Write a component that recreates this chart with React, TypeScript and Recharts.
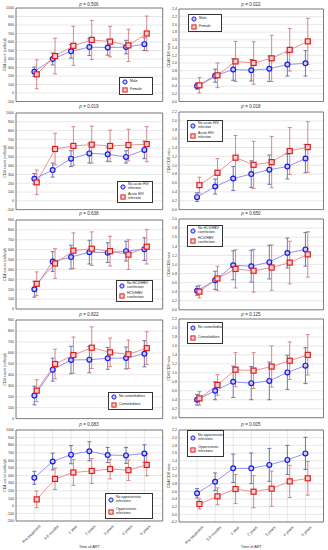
import React from 'react';
import { ComposedChart, Scatter, XAxis, YAxis, CartesianGrid, ErrorBar, ReferenceArea, Legend, Label } from 'recharts';

// ---------- categories ----------
const timeLabels = ['Pre-treatment', '3-6 months', '1 year', '2 years', '3 years', '4 years', '5 years'];

// ---------- tick labels ----------
const countTicksA = [-100, 0, 100, 200, 300, 400, 500, 600, 700, 800, 900, 1000];
const countTicksB = [0, 100, 200, 300, 400, 500, 600, 700, 800, 900];
const countTicksC = [-200, -100, 0, 100, 200, 300, 400, 500, 600, 700, 800, 900, 1000];
const ratioTicks24 = [0, 0.2, 0.4, 0.6, 0.8, 1.0, 1.2, 1.4, 1.6, 1.8, 2.0, 2.2, 2.4];
const ratioTicks22 = [0, 0.2, 0.4, 0.6, 0.8, 1.0, 1.2, 1.4, 1.6, 1.8, 2.0, 2.2];
const ratioTicks20 = [0, 0.2, 0.4, 0.6, 0.8, 1.0, 1.2, 1.4, 1.6, 1.8, 2.0];
const ratioTicksNeg = [-0.2, 0, 0.2, 0.4, 0.6, 0.8, 1.0, 1.2, 1.4, 1.6, 1.8, 2.0, 2.2];

// ---------- series: sex ----------
const maleCount = [250, 400, 490, 540, 535, 540, 575];
const maleCountErr = [55, 70, 80, 100, 90, 80, 75];
const femaleCount = [220, 435, 555, 625, 605, 560, 700];
const femaleCountErr = [170, 210, 230, 230, 180, 190, 205];
const maleRatio = [0.40, 0.67, 0.83, 0.81, 0.85, 0.96, 0.99];
const maleRatioErr = [0.08, 0.17, 0.28, 0.28, 0.33, 0.30, 0.33];
const femaleRatio = [0.42, 0.68, 1.04, 1.00, 1.12, 1.34, 1.56];
const femaleRatioErr = [0.20, 0.32, 0.52, 0.55, 0.60, 0.55, 0.60];

// ---------- series: acute HIV infection ----------
const noAcuteCount = [250, 350, 480, 540, 530, 500, 580];
const noAcuteCountErr = [60, 80, 90, 110, 80, 70, 100];
const acuteCount = [210, 590, 625, 640, 625, 635, 645];
const acuteCountErr = [140, 180, 220, 210, 180, 180, 200];
const noAcuteRatio = [0.28, 0.52, 0.70, 0.80, 0.90, 0.97, 1.15];
const noAcuteRatioErr = [0.10, 0.17, 0.27, 0.30, 0.33, 0.28, 0.32];
const acuteRatio = [0.55, 0.83, 1.17, 1.01, 1.07, 1.32, 1.41];
const acuteRatioErr = [0.18, 0.32, 0.50, 0.53, 0.58, 0.53, 0.57];

// ---------- series: HCV/HBV coinfection ----------
const noCoinfCount = [200, 480, 525, 575, 570, 585, 605];
const noCoinfCountErr = [80, 100, 120, 120, 100, 100, 115];
const coinfCount = [255, 460, 590, 610, 585, 550, 630];
const coinfCountErr = [120, 150, 180, 170, 150, 150, 175];
const noCoinfRatio = [0.42, 0.65, 0.98, 0.96, 1.05, 1.25, 1.33];
const noCoinfRatioErr = [0.10, 0.20, 0.32, 0.35, 0.37, 0.33, 0.37];
const coinfRatio = [0.40, 0.69, 0.90, 0.86, 0.93, 1.04, 1.22];
const coinfRatioErr = [0.14, 0.27, 0.42, 0.47, 0.50, 0.47, 0.50];

// ---------- series: comorbidities ----------
const noComorbCount = [210, 447, 535, 538, 550, 553, 592];
const noComorbCountErr = [85, 105, 125, 120, 100, 100, 120];
const comorbCount = [255, 498, 580, 647, 605, 587, 643];
const comorbCountErr = [100, 135, 165, 190, 130, 130, 150];
const noComorbRatio = [0.40, 0.60, 0.80, 0.77, 0.82, 1.01, 1.16];
const noComorbRatioErr = [0.12, 0.20, 0.35, 0.37, 0.42, 0.38, 0.40];
const comorbRatio = [0.43, 0.73, 1.07, 1.05, 1.14, 1.27, 1.40];
const comorbRatioErr = [0.15, 0.23, 0.38, 0.40, 0.46, 0.42, 0.45];

// ---------- series: opportunistic infections ----------
const noOICount = [370, 585, 675, 720, 670, 665, 690];
const noOICountErr = [85, 110, 120, 125, 100, 105, 115];
const oiCount = [85, 355, 440, 460, 485, 470, 540];
const oiCountErr = [110, 140, 170, 165, 130, 135, 145];
const noOIRatio = [0.55, 0.85, 1.20, 1.20, 1.29, 1.42, 1.59];
const noOIRatioErr = [0.12, 0.23, 0.37, 0.40, 0.43, 0.38, 0.42];
const oiRatio = [0.27, 0.47, 0.66, 0.59, 0.67, 0.86, 0.94];
const oiRatioErr = [0.13, 0.22, 0.38, 0.42, 0.46, 0.42, 0.44];

// ---------- p values / names ----------
const pValues = ['0.506', '0.022', '0.019', '0.018', '0.638', '0.650', '0.822', '0.125', '0.083', '0.005'];
const sexNames = [['Male'], ['Female']];
const acuteNames = [['No acute HIV', 'infection'], ['Acute HIV', 'infection']];
const coinfNames = [['No HCV/HBV', 'coinfection'], ['HCV/HBV', 'coinfection']];
const comorbNames = [['No comorbidities'], ['Comorbidities']];
const oiNames = [['No opportunistic', 'infections'], ['Opportunistic', 'infections']];

const countLabel = 'CD4 count (cells/\u03bcl)';
const ratioLabel = 'CD4/CD8 ratio';

const FONT = '"Liberation Sans", Arial, sans-serif';
const BLUE = '#1a1ae6';
const RED = '#e31a1a';
const DODGE = 0.13;

const BlueDot = (p: any) => (
  <circle cx={p.cx} cy={p.cy} r={2.4} fill="#c9cdff" stroke={BLUE} strokeWidth={1.2} />
);
const RedSq = (p: any) => (
  <rect x={p.cx - 2.5} y={p.cy - 2.5} width={5} height={5} fill="#ffd2d2" stroke={RED} strokeWidth={1.2} />
);

const AngledTick = (props: any) => {
  const { x, y, payload } = props;
  const label = timeLabels[Math.round(payload.value) - 1];
  return (
    <g transform={`translate(${x + 6.5},${y + 5.5}) rotate(-45)`}>
      <text x={0} y={0} textAnchor="end" fontSize={3.9} fill="#333" fontFamily={FONT}>{label}</text>
    </g>
  );
};

const LegendBox = ({ names }: { names: string[][] }) => (
  <div
    style={{
      boxSizing: 'border-box', width: '100%', height: '100%', border: '1px solid #333', background: '#fff',
      display: 'flex', flexDirection: 'column', justifyContent: 'space-around', padding: '0.5px 1.5px',
      fontSize: 3.5, lineHeight: '3.9px', color: '#222', fontFamily: FONT, whiteSpace: 'nowrap', overflow: 'hidden',
    }}
  >
    {names.map((lines, k) => (
      <div key={k} style={{ display: 'flex', alignItems: 'center' }}>
        <svg width={6} height={6} style={{ flex: 'none' }}>
          {k === 0 ? (
            <circle cx={3} cy={3} r={2.1} fill="#c9cdff" stroke={BLUE} strokeWidth={1} />
          ) : (
            <rect x={0.9} y={0.9} width={4.2} height={4.2} fill="#ffd2d2" stroke={RED} strokeWidth={1} />
          )}
        </svg>
        <div style={{ marginLeft: 2.5 }}>
          {lines.map((l, j) => (
            <div key={j}>{l}</div>
          ))}
        </div>
      </div>
    ))}
  </div>
);

type PanelProps = {
  col: 0 | 1;
  plotTop: number;
  plotBottom: number;
  yDomain: [number, number];
  yTicks: number[];
  decimals: number;
  yLabel: string;
  blue: number[];
  blueErr: number[];
  red: number[];
  redErr: number[];
  names: string[][];
  legend: { x: number; y: number; w: number; h: number };
  bottom?: boolean;
};

const Panel = (p: PanelProps) => {
  const chartLeft = p.col === 0 ? 0 : 164;
  const yAxisW = p.col === 0 ? 16 : 15;
  const marginRight = p.col === 0 ? 1.3 : 4.5;
  const mTop = 3;
  const xH = p.bottom ? 548 - p.plotBottom : 0;
  const mBottom = p.bottom ? 0 : 3;
  const chartTop = p.plotTop - mTop;
  const height = p.plotBottom - p.plotTop + mTop + mBottom + xH;
  const blueData = timeLabels.map((_, i) => ({ x: i + 1, y: p.blue[i], e: p.blueErr[i] }));
  const redData = timeLabels.map((_, i) => ({ x: i + 1 + DODGE, y: p.red[i], e: p.redErr[i] }));
  return (
    <div style={{ position: 'absolute', left: chartLeft, top: chartTop }}>
      <ComposedChart width={164} height={height} margin={{ top: mTop, right: marginRight, bottom: mBottom, left: 0 }}>
        <CartesianGrid stroke="#d6d6d6" strokeWidth={0.6} />
        <XAxis
          type="number"
          dataKey="x"
          domain={[0, 8]}
          ticks={[1, 2, 3, 4, 5, 6, 7]}
          interval={0}
          allowDataOverflow
          height={xH}
          axisLine={false}
          tickLine={false}
          tickSize={0}
          tickMargin={0}
          tick={p.bottom ? <AngledTick /> : false}
        >
          {p.bottom ? (
            <Label value="Time of ART" position="insideBottom" offset={0} fontSize={3.8} fill="#333" fontFamily={FONT} />
          ) : null}
        </XAxis>
        <YAxis
          type="number"
          dataKey="y"
          domain={p.yDomain}
          ticks={p.yTicks}
          interval={0}
          allowDataOverflow
          width={yAxisW}
          axisLine={false}
          tickLine={false}
          tickSize={1}
          tickMargin={1}
          tick={{ fontSize: 3.6, fill: '#333', fontFamily: FONT }}
          tickFormatter={(v: number) => (p.decimals ? v.toFixed(p.decimals) : String(v))}
        >
          <Label value={p.yLabel} angle={-90} position="center" dx={-3} fontSize={3.8} fill="#333" fontFamily={FONT} />
        </YAxis>
        <ReferenceArea x1={0} x2={8} y1={p.yDomain[0]} y2={p.yDomain[1]} fill="none" stroke="#666" strokeWidth={0.8} ifOverflow="visible" />
        <Scatter
          data={blueData}
          line={{ stroke: '#7878ee', strokeWidth: 0.8 }}
          lineType="joint"
          shape={BlueDot}
          isAnimationActive={false}
        >
          <ErrorBar dataKey="e" direction="y" width={2} stroke="#5d6aa8" strokeWidth={0.9} />
        </Scatter>
        <Scatter
          data={redData}
          line={{ stroke: '#e47a7a', strokeWidth: 0.8 }}
          lineType="joint"
          shape={RedSq}
          isAnimationActive={false}
        >
          <ErrorBar dataKey="e" direction="y" width={2} stroke="#d47a7a" strokeWidth={0.9} />
        </Scatter>
        <Legend
          layout="horizontal"
          verticalAlign="middle"
          align="center"
          content={() => <LegendBox names={p.names} />}
          wrapperStyle={{
            position: 'absolute',
            left: p.legend.x - chartLeft,
            top: p.legend.y - chartTop,
            width: p.legend.w,
            height: p.legend.h,
            margin: 0,
            padding: 0,
          }}
        />
      </ComposedChart>
    </div>
  );
};

const Title = ({ x, y, value }: { x: number; y: number; value: string }) => (
  <div
    style={{
      position: 'absolute', left: x - 30, top: y - 2.6, width: 60, textAlign: 'center',
      fontSize: 4.6, lineHeight: '5.2px', color: '#333', fontFamily: FONT, whiteSpace: 'nowrap',
    }}
  >
    <i>p</i> = {value}
  </div>
);

export default function App() {
  const LX = 89;
  const RX = 251;
  return (
    <div style={{ position: 'absolute', left: 0, top: 0, width: 328, height: 550, background: '#fff', overflow: 'hidden' }}>
      <Panel col={0} plotTop={7.5} plotBottom={101} yDomain={[-100, 1000]} yTicks={countTicksA} decimals={0} yLabel={countLabel}
        blue={maleCount} blueErr={maleCountErr} red={femaleCount} redErr={femaleCountErr} names={sexNames}
        legend={{ x: 119, y: 77, w: 34, h: 18 }} />
      <Panel col={1} plotTop={8.5} plotBottom={101} yDomain={[0, 2.4]} yTicks={ratioTicks24} decimals={1} yLabel={ratioLabel}
        blue={maleRatio} blueErr={maleRatioErr} red={femaleRatio} redErr={femaleRatioErr} names={sexNames}
        legend={{ x: 188, y: 14, w: 34, h: 18 }} />
      <Panel col={0} plotTop={112.7} plotBottom={209.3} yDomain={[-100, 1000]} yTicks={countTicksA} decimals={0} yLabel={countLabel}
        blue={noAcuteCount} blueErr={noAcuteCountErr} red={acuteCount} redErr={acuteCountErr} names={acuteNames}
        legend={{ x: 117, y: 181, w: 36, h: 22 }} />
      <Panel col={1} plotTop={111.7} plotBottom={209.3} yDomain={[0, 2.2]} yTicks={ratioTicks22} decimals={1} yLabel={ratioLabel}
        blue={noAcuteRatio} blueErr={noAcuteRatioErr} red={acuteRatio} redErr={acuteRatioErr} names={acuteNames}
        legend={{ x: 187, y: 120, w: 36, h: 22 }} />
      <Panel col={0} plotTop={220} plotBottom={309} yDomain={[0, 900]} yTicks={countTicksB} decimals={0} yLabel={countLabel}
        blue={noCoinfCount} blueErr={noCoinfCountErr} red={coinfCount} redErr={coinfCountErr} names={coinfNames}
        legend={{ x: 116, y: 280, w: 37, h: 22 }} />
      <Panel col={1} plotTop={218.5} plotBottom={309.3} yDomain={[0, 2.0]} yTicks={ratioTicks20} decimals={1} yLabel={ratioLabel}
        blue={noCoinfRatio} blueErr={noCoinfRatioErr} red={coinfRatio} redErr={coinfRatioErr} names={coinfNames}
        legend={{ x: 187, y: 225, w: 36, h: 22 }} />
      <Panel col={0} plotTop={319.7} plotBottom={418.3} yDomain={[0, 900]} yTicks={countTicksB} decimals={0} yLabel={countLabel}
        blue={noComorbCount} blueErr={noComorbCountErr} red={comorbCount} redErr={comorbCountErr} names={comorbNames}
        legend={{ x: 108, y: 392, w: 45, h: 18 }} />
      <Panel col={1} plotTop={318.8} plotBottom={417.5} yDomain={[0, 2.2]} yTicks={ratioTicks22} decimals={1} yLabel={ratioLabel}
        blue={noComorbRatio} blueErr={noComorbRatioErr} red={comorbRatio} redErr={comorbRatioErr} names={comorbNames}
        legend={{ x: 187, y: 322, w: 36, h: 22 }} />
      <Panel col={0} plotTop={430} plotBottom={521} yDomain={[-200, 1000]} yTicks={countTicksC} decimals={0} yLabel={countLabel}
        blue={noOICount} blueErr={noOICountErr} red={oiCount} redErr={oiCountErr} names={oiNames}
        legend={{ x: 105, y: 493, w: 48, h: 26 }} bottom />
      <Panel col={1} plotTop={430} plotBottom={522} yDomain={[-0.2, 2.2]} yTicks={ratioTicksNeg} decimals={1} yLabel={ratioLabel}
        blue={noOIRatio} blueErr={noOIRatioErr} red={oiRatio} redErr={oiRatioErr} names={oiNames}
        legend={{ x: 187, y: 430, w: 37, h: 27 }} bottom />
      <Title x={LX} y={4.5} value={pValues[0]} />
      <Title x={RX} y={4.5} value={pValues[1]} />
      <Title x={LX} y={107} value={pValues[2]} />
      <Title x={RX} y={107} value={pValues[3]} />
      <Title x={LX} y={214} value={pValues[4]} />
      <Title x={RX} y={214} value={pValues[5]} />
      <Title x={LX} y={315} value={pValues[6]} />
      <Title x={RX} y={315} value={pValues[7]} />
      <Title x={LX} y={425} value={pValues[8]} />
      <Title x={RX} y={425} value={pValues[9]} />
    </div>
  );
}
